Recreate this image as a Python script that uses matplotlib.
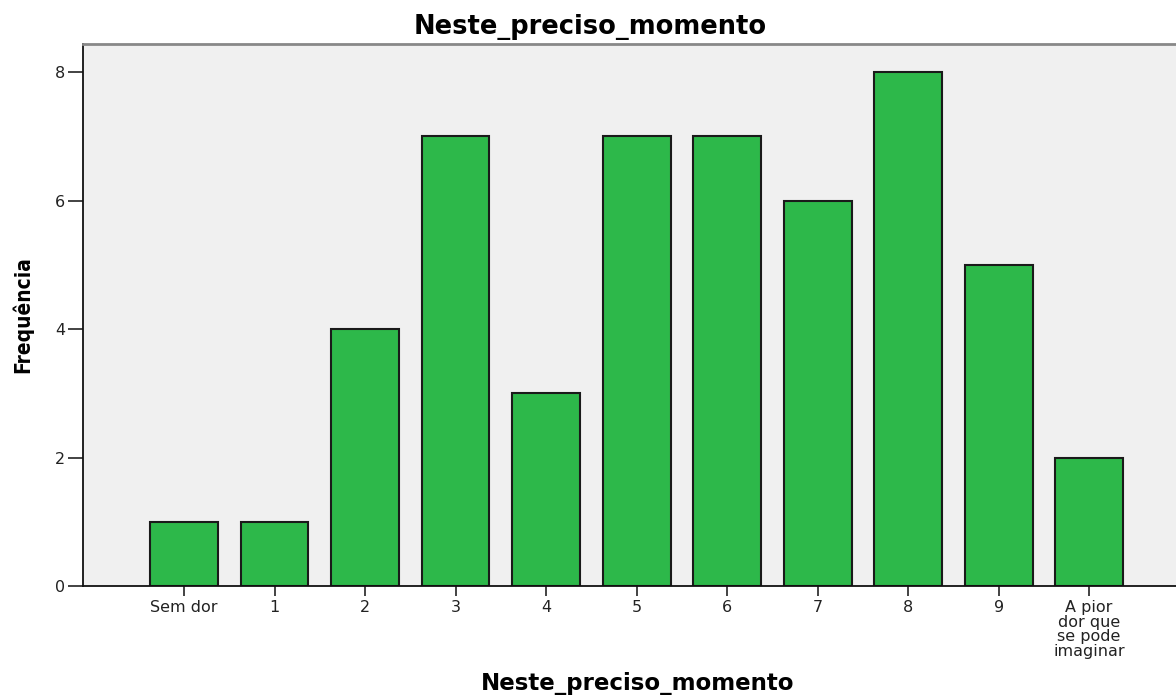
import os
import matplotlib
matplotlib.use('Agg')
import matplotlib.pyplot as plt
from matplotlib.font_manager import FontProperties

# categories and frequencies
categories = ['Sem dor', '1', '2', '3', '4', '5', '6', '7', '8', '9',
              'A pior\ndor que\nse pode\nimaginar']
freq = [1, 1, 4, 7, 3, 7, 7, 6, 8, 5, 2]
yticks = [0, 2, 4, 6, 8]

# use the bundled DejaVu files so the normal width is always picked
FONT_DIR = os.path.join(matplotlib.get_data_path(), 'fonts', 'ttf')
regular = os.path.join(FONT_DIR, 'DejaVuSans.ttf')
bold = os.path.join(FONT_DIR, 'DejaVuSans-Bold.ttf')

fig = plt.figure(figsize=(11.76, 6.97), dpi=100)
ax = fig.add_axes([0.0706, 0.1593, 0.9294, 0.7776])
ax.set_facecolor('#f0f0f0')

x = list(range(len(categories)))
ax.bar(x, freq, width=0.75, color='#2db84a', edgecolor='#1a1a1a', linewidth=1.5, zorder=2)

ax.set_xlim(-1.116, 10.96)
ax.set_ylim(0, 8.44)

tick_font = FontProperties(fname=regular, size=11.5)
ax.set_xticks(x)
ax.set_xticklabels(categories, fontproperties=tick_font, linespacing=0.98)
ax.set_yticks(yticks)
ax.set_yticklabels([str(v) for v in yticks], fontproperties=tick_font)
ax.tick_params(axis='y', length=11, width=1.2, pad=2, colors='#222222')
ax.tick_params(axis='x', length=7, width=1.2, pad=3, colors='#222222')

for s in ['left', 'bottom']:
    ax.spines[s].set_color('#111111')
    ax.spines[s].set_linewidth(1.3)
ax.spines['top'].set_color('#888888')
ax.spines['top'].set_linewidth(2)
ax.spines['right'].set_visible(False)

fig.text(0.502, 0.961, 'Neste_preciso_momento', ha='center', va='center',
         fontproperties=FontProperties(fname=bold, size=18.5))
fig.text(0.542, 0.02, 'Neste_preciso_momento', ha='center', va='center',
         fontproperties=FontProperties(fname=bold, size=16.5))
fig.text(0.019, 0.548, 'Frequência', rotation=90, ha='center', va='center',
         fontsize=15, fontweight='bold', fontstretch='condensed',
         family='DejaVu Sans')

fig.savefig('out.png', dpi=100)
